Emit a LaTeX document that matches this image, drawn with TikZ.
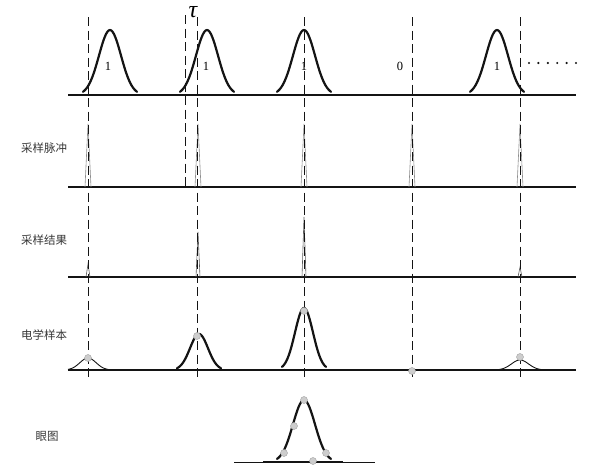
\documentclass[tikz,border=0pt]{standalone}
\usepackage{fontspec}
\setmainfont{Liberation Serif}
\newfontfamily\cjk{Noto Sans CJK SC}
\usetikzlibrary{calc}
\definecolor{ink}{HTML}{141414}
\definecolor{spikegrey}{HTML}{8C8C8C}
\definecolor{dotfill}{HTML}{CDCDCD}
\definecolor{dotline}{HTML}{A0A0A0}
% bell curve: style, centre, baseline, height, half width
\newcommand{\bell}[5]{%
  \draw[#1] plot[smooth, domain=-#5:#5, samples=41]
    ({#2+\x}, {#3-#4*exp(-0.5*(\x*2.45/#5)*(\x*2.45/#5))});
}
\tikzset{
  axisline/.style={
    draw=ink,
    line width=1.1pt
  },
  pulse/.style={
    draw=ink,
    line width=2.2pt,
    line cap=round
  },
  bump/.style={
    draw=ink,
    line width=0.9pt
  },
  cut/.style={
    draw=ink,
    line width=1pt,
    dash pattern=on 9pt off 4.5pt
  },
  spike/.style={
    draw=spikegrey,
    line width=0.6pt
  },
  sample/.style={
    circle,
    draw=dotline,
    fill=dotfill,
    inner sep=0pt,
    minimum size=7pt
  },
  rowlabel/.style={
    font=\cjk\fontsize{11.5}{11.5}\selectfont,
    text=ink!85
  },
  bitlabel/.style={
    font=\fontsize{12.5}{12.5}\selectfont
  }
}

\begin{document}
\begin{tikzpicture}[x=1pt, y=-1pt]
  \useasboundingbox (0,0) rectangle (616,466);
  % transmitted bits
  \draw[axisline] (68,95) -- (576,95);
  \foreach \c in {110,207,304,497} {
    \bell{pulse}{\c}{95}{65}{27}
  }
  \node[bitlabel] (b1) at (108,66) {1};
  \node[bitlabel] (b2) at (206,66) {1};
  \node[bitlabel] (b3) at (304,66) {1};
  \node[bitlabel] (b4) at (400,66) {0};
  \node[bitlabel] (b5) at (497,66) {1};
  \foreach \i in {0,...,5} {
    \fill[ink] (529+\i*9.4,63) circle (1.2);
  }
  \node[font=\itshape\fontsize{24}{24}\selectfont, inner sep=0pt] (tau) at (193,12.5) {τ};
  % sampling pulses
  \node[rowlabel] (lpulse) at (44,148) {采样脉冲};
  \draw[axisline] (68,187) -- (576,187);
  \foreach \c in {88,198,304,412,520} {
    \draw[spike] (\c-3,187) -- (\c,124) -- (\c+3,187);
  }
  % sampled result
  \node[rowlabel] (lresult) at (44,240) {采样结果};
  \draw[axisline] (68,277) -- (576,277);
  \foreach \c/\h in {88/13,198/45,304/60,520/10} {
    \draw[spike, draw=ink!70] (\c-2,277) -- (\c,277-\h) -- (\c+2,277);
  }
  % electrical samples
  \node[rowlabel] (lsample) at (44,335) {电学样本};
  \draw[axisline] (68,370) -- (576,370);
  \bell{bump}{88}{370}{12}{20}
  \bell{pulse}{199}{370}{36}{22}
  \bell{pulse}{304}{370}{62}{22}
  \bell{bump}{520}{370}{10}{21}
  % decision instants
  \foreach \c in {88,197,304,412,520} {
    \draw[cut] (\c,17) -- (\c,377);
  }
  \draw[cut] (185,15) -- (185,190);
  \node[sample] (s1) at (88,358) {};
  \node[sample] (s2) at (197,336) {};
  \node[sample] (s3) at (304,311) {};
  \node[sample] (s4) at (412,371) {};
  \node[sample] (s5) at (520,357) {};
  % eye diagram
  \node[rowlabel] (leye) at (47,436) {眼图};
  \draw[axisline, line width=0.8pt] (234,462) -- (375,462);
  \draw[axisline, line width=1.6pt] (263,462) -- (343,462);
  \bell{pulse}{304}{462}{62}{27}
  \node[sample] (e1) at (304,400) {};
  \node[sample] (e2) at (294,426) {};
  \node[sample] (e3) at (284,453) {};
  \node[sample] (e4) at (326,453) {};
  \node[sample] (e5) at (313,461) {};
\end{tikzpicture}
\end{document}
